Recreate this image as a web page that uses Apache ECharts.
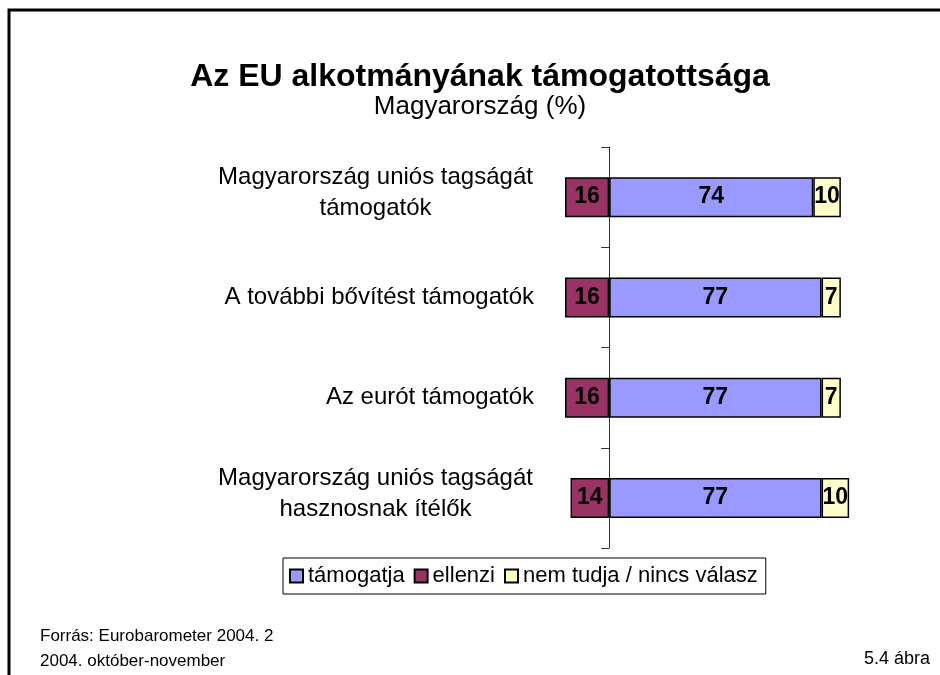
<!DOCTYPE html>
<html lang="hu">
<head>
    <meta charset="utf-8" />
    <title>Az EU alkotmányának támogatottsága</title>
    <script src="https://cdn.jsdelivr.net/npm/echarts@6/dist/echarts.min.js"></script>
    <style>
        html, body { margin: 0; padding: 0; background: #fff; }
    </style>
</head>
<body>
    <div id="main" style="width: 940px;height:675px;"></div>
    <script type="text/javascript">

        // data
        var categories = [
            'Magyarország uniós tagságát\ntámogatók',
            'A további bővítést támogatók',
            'Az eurót támogatók',
            'Magyarország uniós tagságát\nhasznosnak ítélők'
        ];
        var tamogatja = [74, 77, 77, 77];
        var ellenzi = [16, 16, 16, 14];
        var nemTudja = [10, 7, 7, 10];

        var seriesNames = ['támogatja', 'ellenzi', 'nem tudja / nincs válasz'];

        var FONT = '"Liberation Sans", Arial, sans-serif';
        var labelSize = 24;

        // width of the widest line, so two-line labels can be centred inside their block
        var ctx = document.createElement('canvas').getContext('2d');
        ctx.font = labelSize + 'px ' + FONT;
        var blockWidth = 0;
        categories.forEach(function (c) {
            c.split('\n').forEach(function (line) {
                blockWidth = Math.max(blockWidth, ctx.measureText(line).width);
            });
        });
        blockWidth = Math.ceil(blockWidth) + 2;

        var myChart = echarts.init(document.getElementById('main'));

        var barLabel = {
            show: true,
            position: 'inside',
            color: '#000',
            fontFamily: FONT,
            fontWeight: 'bold',
            fontSize: 23,
            formatter: function (p) { return Math.abs(p.value); }
        };
        var edge = { borderColor: '#000', borderWidth: 1.5 };

        option = {
            backgroundColor: '#fff',
            animation: false,
            title: {
                text: 'Az EU alkotmányának támogatottsága',
                subtext: 'Magyarország (%)',
                left: 475,
                top: 56,
                textAlign: 'center',
                itemGap: 1,
                textStyle: { fontFamily: FONT, fontWeight: 'bold', fontSize: 32, color: '#000' },
                subtextStyle: { fontFamily: FONT, fontSize: 26, color: '#000' }
            },
            legend: {
                data: seriesNames,
                left: 283,
                top: 558,
                orient: 'horizontal',
                icon: 'rect',
                itemWidth: 13,
                itemHeight: 13,
                itemGap: 9,
                padding: [7, 8, 7, 6],
                borderColor: '#000',
                borderWidth: 1,
                textStyle: { fontFamily: FONT, fontSize: 22, color: '#000' }
            },
            grid: {
                left: 554,
                right: 55,
                top: 147,
                bottom: 127
            },
            xAxis: {
                type: 'value',
                min: -20,
                max: 100,
                show: false
            },
            yAxis: {
                type: 'category',
                data: categories,
                inverse: true,
                axisLine: { show: true, onZero: true, lineStyle: { color: '#333', width: 1 } },
                axisTick: { show: true, length: 8, lineStyle: { color: '#333' } },
                axisLabel: {
                    margin: 20,
                    color: '#000',
                    fontFamily: FONT,
                    fontSize: labelSize,
                    lineHeight: 31,
                    align: 'right',
                    formatter: function (v) {
                        if (v.indexOf('\n') < 0) return v;
                        // a thin empty line below lifts the two-line block slightly, as in the original
                        return v.split('\n').map(function (l) { return '{c|' + l + '}'; }).join('\n') + '\n{e|}';
                    },
                    rich: {
                        c: {
                            width: blockWidth,
                            align: 'center',
                            fontFamily: FONT,
                            fontSize: labelSize,
                            lineHeight: 31,
                            color: '#000'
                        },
                        e: {
                            fontSize: 2,
                            lineHeight: 8
                        }
                    }
                },
                splitLine: { show: false }
            },
            series: [
                {
                    name: seriesNames[0],
                    type: 'bar',
                    stack: 'all',
                    barWidth: 40,
                    data: tamogatja,
                    itemStyle: Object.assign({ color: '#9999FF' }, edge),
                    label: barLabel
                },
                {
                    name: seriesNames[1],
                    type: 'bar',
                    stack: 'all',
                    barWidth: 40,
                    data: ellenzi.map(function (v) { return -v; }),
                    itemStyle: Object.assign({ color: '#993366' }, edge),
                    label: barLabel
                },
                {
                    name: seriesNames[2],
                    type: 'bar',
                    stack: 'all',
                    barWidth: 40,
                    data: nemTudja,
                    itemStyle: Object.assign({ color: '#FFFFCC' }, edge),
                    label: barLabel
                }
            ],
            graphic: [
                {
                    type: 'polyline',
                    shape: { points: [[9, 675], [9, 10], [940, 10]] },
                    style: { stroke: '#000', lineWidth: 3, fill: null },
                    silent: true
                },
                {
                    type: 'text',
                    left: 40,
                    top: 624,
                    style: {
                        text: 'Forrás: Eurobarometer 2004. 2\n2004. október-november',
                        font: '17px ' + FONT,
                        lineHeight: 25,
                        fill: '#000'
                    }
                },
                {
                    type: 'text',
                    right: 10,
                    top: 650,
                    style: { text: '5.4 ábra', font: '18px ' + FONT, fill: '#000' }
                }
            ]
        };

        // use configuration item and data specified to show chart
        myChart.setOption(option);

    </script>
</body>
</html>
